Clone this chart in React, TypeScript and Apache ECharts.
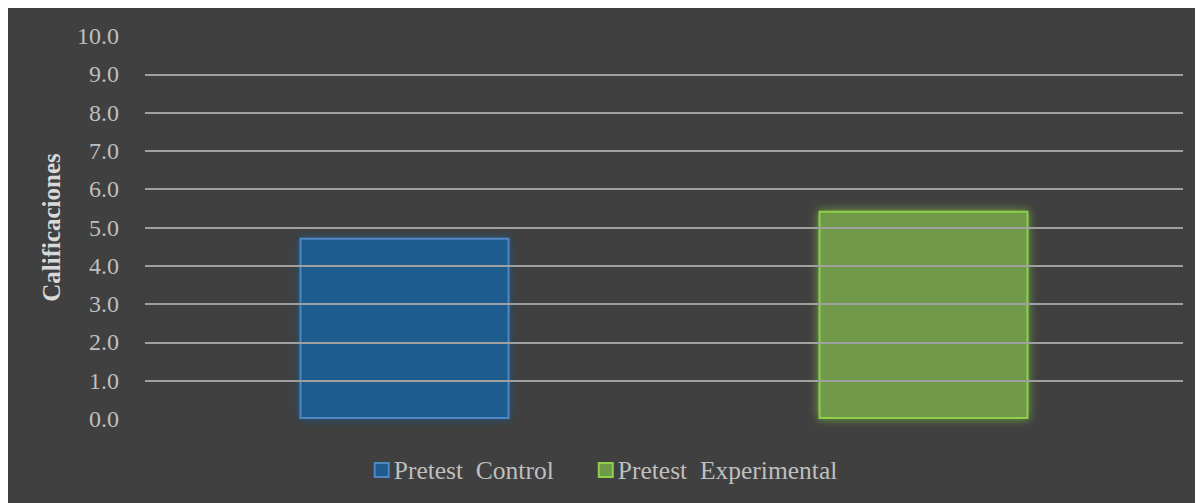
import React, { useEffect, useRef } from "react";
import * as echarts from "echarts";

const categories = ["Pretest  Control", "Pretest  Experimental"];
const controlValues = [4.73, "-"];
const experimentalValues = ["-", 5.44];
const yTicks = [0, 10];

export default function App() {
  const ref = useRef<HTMLDivElement>(null);
  useEffect(() => {
    const chart = echarts.init(ref.current!, null, { renderer: "svg" });
    const serif = "'Liberation Serif', 'DejaVu Serif', serif";
    chart.setOption({
      animation: false,
      backgroundColor: "#404040",
      grid: { left: 137, right: 20, top: 28, bottom: 84 },
      legend: {
        top: 444,
        left: "center",
        itemWidth: 14,
        itemHeight: 14,
        itemGap: 44,
        icon: "rect",
        textStyle: { color: "#bfbfbf", fontFamily: serif, fontSize: 25.5 },
        data: [categories[0], categories[1]],
      },
      xAxis: {
        type: "category",
        data: categories,
        axisLine: { show: false },
        axisTick: { show: false },
        axisLabel: { show: false },
      },
      yAxis: {
        type: "value",
        min: yTicks[0],
        max: yTicks[1],
        interval: 1,
        z: 5,
        name: "Calificaciones",
        nameLocation: "middle",
        nameGap: 81,
        nameTextStyle: {
          color: "#d9d9d9",
          fontFamily: serif,
          fontSize: 25,
          fontWeight: "bold",
        },
        axisLine: { show: false },
        axisTick: { show: false },
        axisLabel: {
          color: "#bfbfbf",
          fontFamily: serif,
          fontSize: 24,
          margin: 26,
          formatter: (v: number) => v.toFixed(1),
        },
        splitLine: {
          show: true,
          lineStyle: { color: "#a0a0a0", width: 2 },
          showMinLine: false,
          showMaxLine: false,
        },
      },
      series: [
        {
          name: categories[0],
          type: "bar",
          stack: "s",
          data: controlValues,
          barWidth: 210,
          itemStyle: {
            color: "#1f5b8e",
            borderColor: "#4f86c6",
            borderWidth: 2,
            shadowBlur: 8,
            shadowColor: "rgba(31,91,142,0.8)",
          },
        },
        {
          name: categories[1],
          type: "bar",
          stack: "s",
          data: experimentalValues,
          barWidth: 210,
          itemStyle: {
            color: "#6f9a4a",
            borderColor: "#8ed04a",
            borderWidth: 2,
            shadowBlur: 10,
            shadowColor: "rgba(140,210,70,0.7)",
          },
        },
      ],
    });
    return () => chart.dispose();
  }, []);
  return <div ref={ref} style={{ width: 1195, height: 495 }} />;
}
